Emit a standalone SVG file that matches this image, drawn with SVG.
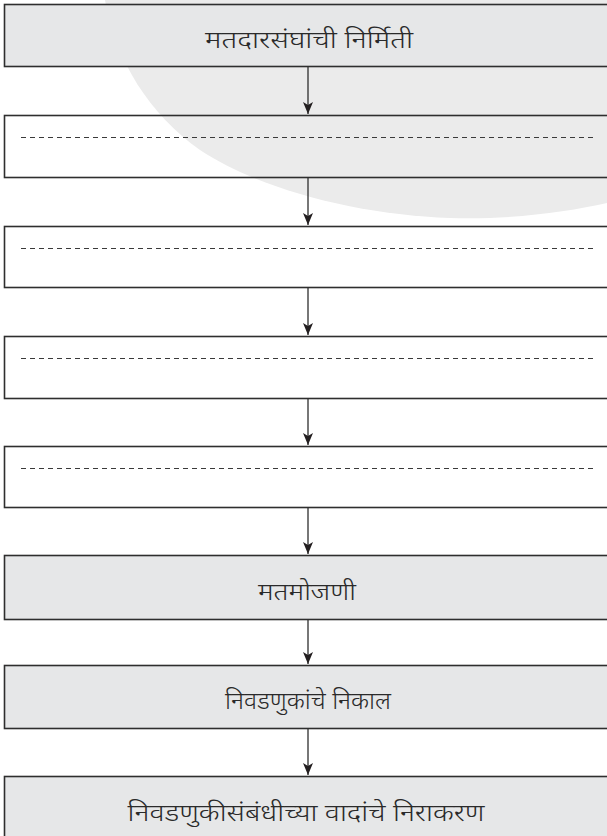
<svg xmlns="http://www.w3.org/2000/svg" width="607" height="836" viewBox="0 0 607 836">
<style>
.box{stroke:#2e2e2e;stroke-width:1.6}
.g{fill:#e6e7e8}
.w{fill:none}
.dash{stroke:#3a3a3a;stroke-width:1.1;stroke-dasharray:5 4}
.lbl{font-family:"Noto Sans Devanagari","Noto Sans","Lohit Devanagari","Liberation Sans",sans-serif;font-size:24px;font-weight:300;fill:#2a2a2a;text-anchor:middle}
.conn line{stroke:#2e2e2e;stroke-width:1.3}
</style>
<defs>
<marker id="ad" viewBox="0 0 10 16" refX="5" refY="16" markerWidth="10" markerHeight="16" markerUnits="userSpaceOnUse" orient="0">
<path d="M0,4 L5,7 L10,4 L5,16 Z" fill="#231f20"/>
</marker>
</defs>
<rect width="607" height="836" fill="#ffffff"/>
<path id="watermark" d="M105,0 C115,60 150,115 200,150 C260,190 360,215 450,218 C520,220 580,210 620,200 L620,0 Z" fill="#ebebeb"/>
<g id="n1"><rect class="box g" x="4.5" y="4.5" width="610" height="62"/><text class="lbl" x="309" y="47.5" textLength="208" lengthAdjust="spacingAndGlyphs">मतदारसंघांची निर्मिती</text></g>
<g id="n2"><rect class="box w" x="4.5" y="115.5" width="610" height="62"/><line class="dash" x1="21" y1="137.5" x2="597" y2="137.5"/></g>
<g id="n3"><rect class="box w" x="4.5" y="226.5" width="610" height="61"/><line class="dash" x1="21" y1="248.5" x2="597" y2="248.5"/></g>
<g id="n4"><rect class="box w" x="4.5" y="336.5" width="610" height="62"/><line class="dash" x1="21" y1="358.5" x2="597" y2="358.5"/></g>
<g id="n5"><rect class="box w" x="4.5" y="446.5" width="610" height="61"/><line class="dash" x1="21" y1="468.5" x2="597" y2="468.5"/></g>
<g id="n6"><rect class="box g" x="4.5" y="555.5" width="610" height="64"/><text class="lbl" x="307" y="600" textLength="98" lengthAdjust="spacingAndGlyphs">मतमोजणी</text></g>
<g id="n7"><rect class="box g" x="4.5" y="665.5" width="610" height="63"/><text class="lbl" x="308" y="709" textLength="166" lengthAdjust="spacingAndGlyphs">निवडणुकांचे निकाल</text></g>
<g id="n8"><rect class="box g" x="4.5" y="776.5" width="610" height="64"/><text class="lbl" x="306" y="820.5" textLength="357" lengthAdjust="spacingAndGlyphs">निवडणुकीसंबंधीच्या वादांचे निराकरण</text></g>
<g id="connectors" class="conn">
<line x1="308" y1="67" x2="308" y2="114" marker-end="url(#ad)"/>
<line x1="308" y1="178" x2="308" y2="225" marker-end="url(#ad)"/>
<line x1="308" y1="288" x2="308" y2="335" marker-end="url(#ad)"/>
<line x1="308" y1="399" x2="308" y2="445" marker-end="url(#ad)"/>
<line x1="308" y1="508" x2="308" y2="554" marker-end="url(#ad)"/>
<line x1="308" y1="620" x2="308" y2="664" marker-end="url(#ad)"/>
<line x1="308" y1="729" x2="308" y2="775" marker-end="url(#ad)"/>
</g>
</svg>
